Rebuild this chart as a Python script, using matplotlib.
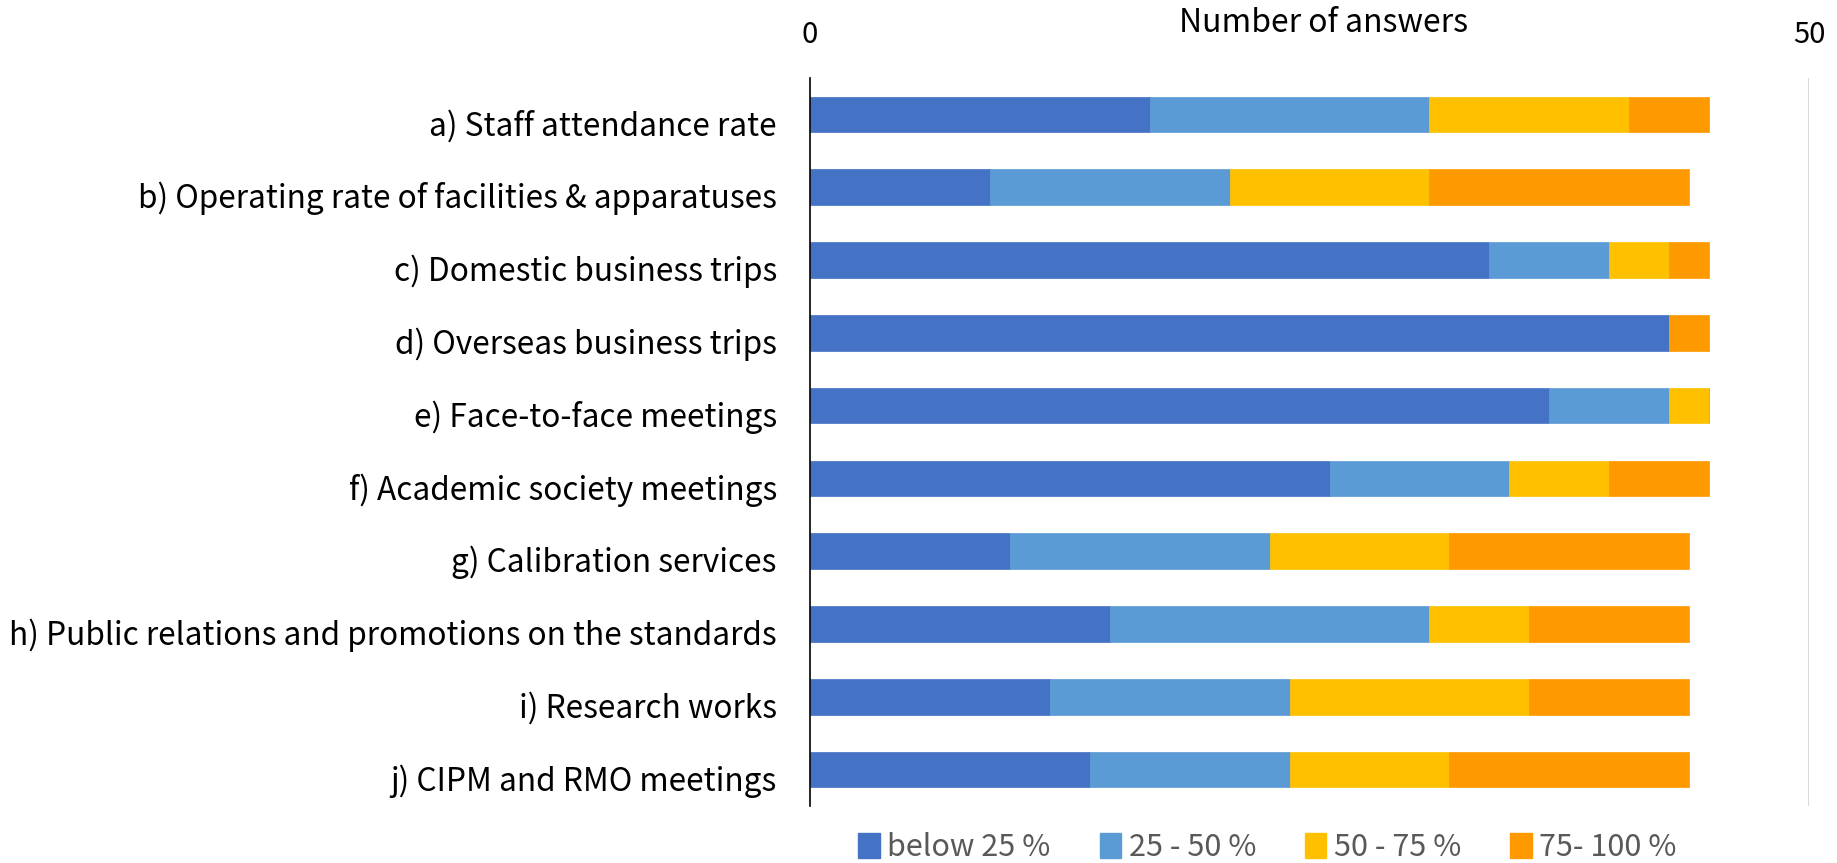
import matplotlib
matplotlib.use("Agg")
import matplotlib.pyplot as plt
from matplotlib.patches import Patch
from matplotlib.transforms import ScaledTranslation

categories = [
    "a) Staff attendance rate",
    "b) Operating rate of facilities & apparatuses",
    "c) Domestic business trips",
    "d) Overseas business trips",
    "e) Face-to-face meetings",
    "f) Academic society meetings",
    "g) Calibration services",
    "h) Public relations and promotions on the standards",
    "i) Research works",
    "j) CIPM and RMO meetings",
]
below_25 = [17, 9, 34, 43, 37, 26, 10, 15, 12, 14]
r25_50 = [14, 12, 6, 0, 6, 9, 13, 16, 12, 10]
r50_75 = [10, 10, 3, 0, 2, 5, 9, 5, 12, 8]
r75_100 = [4, 13, 2, 2, 0, 5, 12, 8, 8, 12]
series_names = ["below 25 %", "25 - 50 %", "50 - 75 %", "75- 100 %"]
colors = ["#4472C4", "#5B9BD5", "#FFC000", "#FF9900"]

plt.rcParams['font.family'] = ['Noto Sans CJK JP', 'DejaVu Sans']

fig = plt.figure(figsize=(18.37, 8.63), dpi=100)
ax = fig.add_axes([0.441, 0.066, 0.5438, 0.8436])

series = [below_25, r25_50, r50_75, r75_100]
y = list(range(len(categories)))
left = [0] * len(categories)
for vals, col in zip(series, colors):
    ax.barh(y, vals, left=left, height=0.49, color=col, edgecolor=col, linewidth=0.5)
    left = [l + v for l, v in zip(left, vals)]

ax.set_ylim(len(categories) - 0.5, -0.5)
ax.set_xlim(0, 50)
ax.set_yticks(y)
ax.set_yticklabels(categories, fontsize=22.8, color="black")
ax.tick_params(axis='y', length=0, pad=24)
off = ScaledTranslation(0, -8 / 100, fig.dpi_scale_trans)
for lbl in ax.get_yticklabels():
    lbl.set_transform(lbl.get_transform() + off)
ax.xaxis.tick_top()
ax.set_xticks([0, 50])
ax.tick_params(axis='x', length=0, labelsize=21, pad=20, colors="black")
ax.axvline(50, color="#D9D9D9", linewidth=1.5)
for s in ["top", "right", "bottom"]:
    ax.spines[s].set_visible(False)
ax.spines["left"].set_color("black")
ax.spines["left"].set_linewidth(1.2)
fig.text(0.7207, 0.973, "Number of answers", ha="center", va="center", fontsize=23, color="black")

handles = [Patch(facecolor=c, edgecolor=c) for c in colors]
leg = fig.legend(handles, series_names, loc="center", bbox_to_anchor=(0.69, 0.018),
                 ncol=4, frameon=False, fontsize=22, handlelength=0.7, handleheight=0.9,
                 handletextpad=0.25, columnspacing=1.6)
for t in leg.get_texts():
    t.set_color("#595959")

fig.savefig("out.png", dpi=100)
